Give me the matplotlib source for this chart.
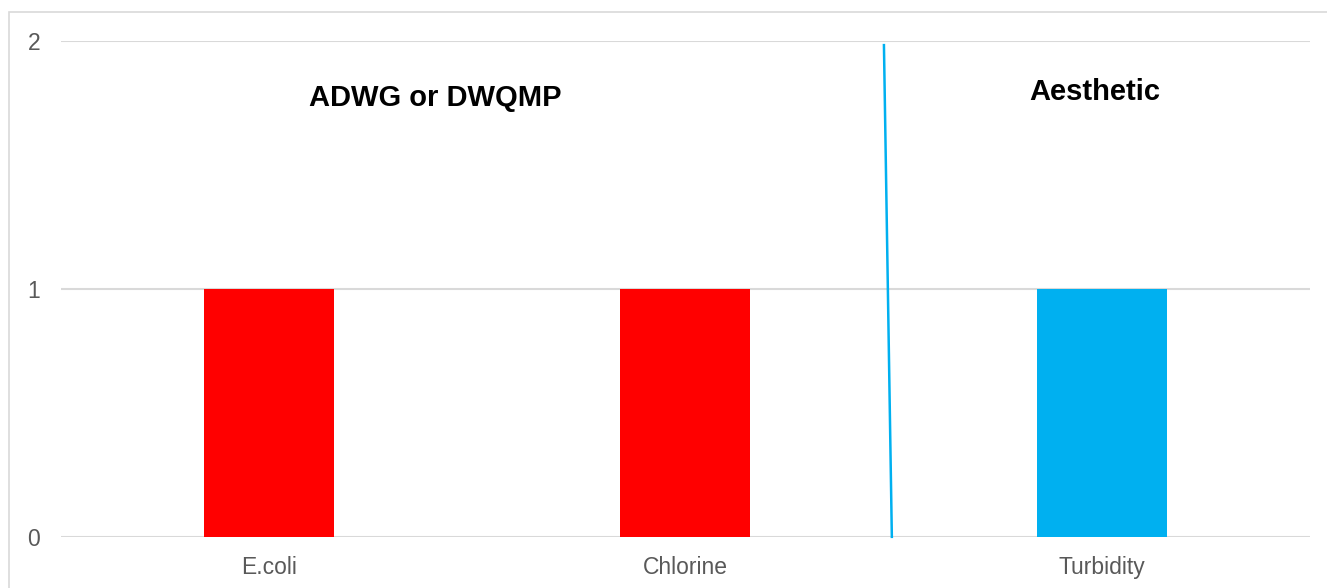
import matplotlib.pyplot as plt
from matplotlib.patches import Rectangle

plt.rcParams["font.family"] = ["Liberation Sans", "DejaVu Sans"]

categories = ["E.coli", "Chlorine", "Turbidity"]
counts = [1, 1, 1]
bar_colors = ["#FF0000", "#FF0000", "#00B0F0"]
group_labels = ["ADWG or DWQMP", "Aesthetic"]

fig = plt.figure(figsize=(13.27, 5.88), dpi=100)
ax = fig.add_axes([0.046, 0.087, 0.941, 0.843])

x = range(len(categories))
ax.bar(x, counts, width=0.312, color=bar_colors, zorder=3)

ax.set_xlim(-0.5, len(categories) - 0.5)
ax.set_ylim(0, 2)
ax.set_yticks([0, 1, 2])
ax.set_xticks(list(x))
ax.set_xticklabels(categories)
ax.tick_params(axis="both", length=0, labelsize=16.5, colors="#595959")
ax.tick_params(axis="y", pad=15)
ax.tick_params(axis="x", pad=14)
ax.grid(axis="y", color="#D9D9D9", linewidth=1.5, zorder=0)
for s in ax.spines.values():
    s.set_visible(False)

# divider between the two groups (slightly slanted as in the original)
ax.plot([1.477, 1.496], [1.984, 0], color="#00B0F0", linewidth=1.8,
        clip_on=False, zorder=4)

ax.text(0.40, 1.77, group_labels[0], ha="center", va="center",
        fontsize=21, fontweight="bold", color="black")
ax.text(1.984, 1.794, group_labels[1], ha="center", va="center",
        fontsize=21, fontweight="bold", color="black")

# outer frame, only top/left edges fall inside the image
fig.patches.append(Rectangle((9 / 1327, -0.1), 1.2, 1.1 - 12 / 588,
                             transform=fig.transFigure, fill=False,
                             edgecolor="#D9D9D9", linewidth=1.2))

fig.savefig("out.png", dpi=100)
